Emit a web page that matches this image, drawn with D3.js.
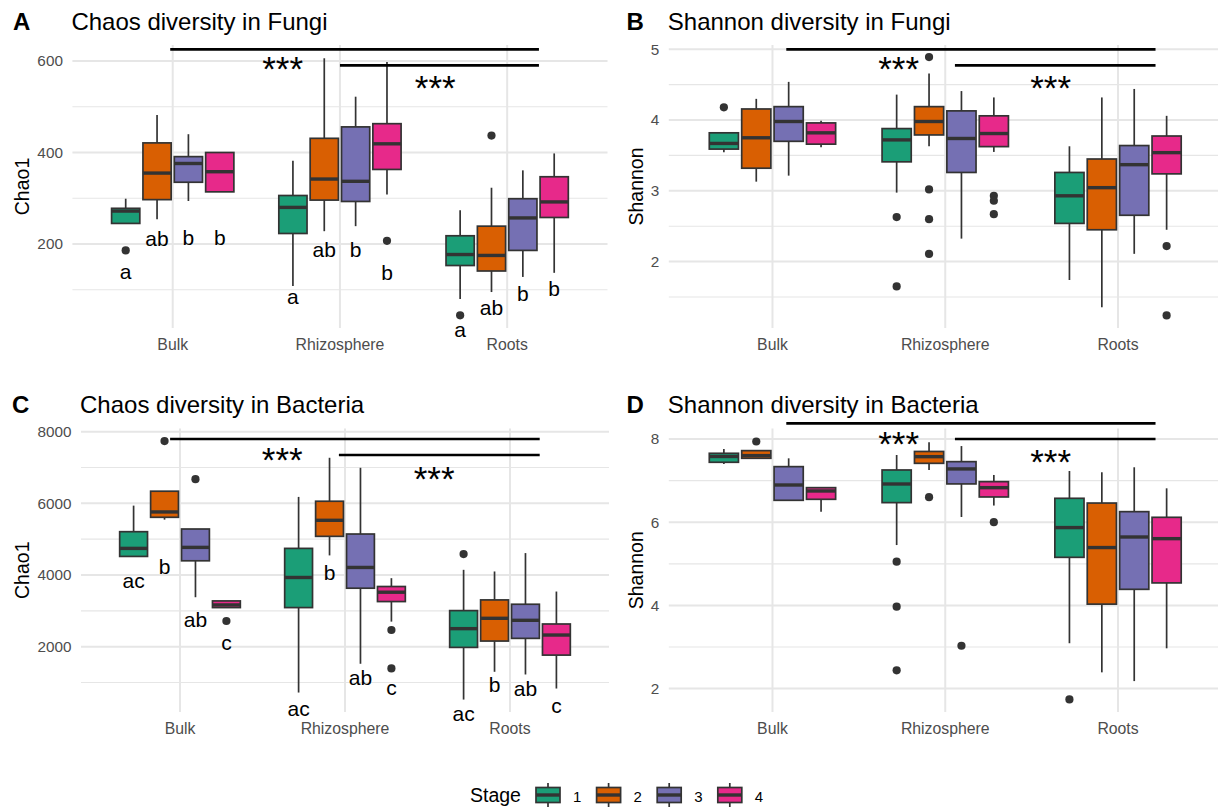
<!DOCTYPE html>
<html>
<head>
<meta charset="utf-8">
<script src="https://cdn.jsdelivr.net/npm/d3@7"></script>
<style>
  body { margin: 0; background: #fff; }
  svg { display: block; font-family: "Liberation Sans", Arial, Helvetica, sans-serif; }
</style>
</head>
<body>
<div class="canvas"></div>
<script>
const sites = ["Bulk", "Rhizosphere", "Roots"];
const stages = ["1", "2", "3", "4"];

// box stats: site, stage, lower whisker, q1, median, q3, upper whisker
const fungiChaoBoxes = [
  ["Bulk", "1", 245, 245, 272, 278, 299],
  ["Bulk", "2", 254, 297, 355, 421, 482],
  ["Bulk", "3", 294, 335, 376, 391, 440],
  ["Bulk", "4", 314, 314, 358, 400, 400],
  ["Rhizosphere", "1", 108, 223, 280, 306, 382],
  ["Rhizosphere", "2", 228, 296, 342, 431, 606],
  ["Rhizosphere", "3", 239, 293, 337, 456, 522],
  ["Rhizosphere", "4", 308, 363, 419, 463, 598],
  ["Roots", "1", 80, 153, 177, 218, 274],
  ["Roots", "2", 95, 141, 175, 239, 323],
  ["Roots", "3", 128, 186, 257, 299, 361],
  ["Roots", "4", 137, 258, 292, 347, 398]
];
const fungiChaoOutliers = [
  ["Bulk", "1", 186], ["Rhizosphere", "4", 207], ["Roots", "1", 44], ["Roots", "2", 437]
];
const fungiChaoLetters = [
  ["Bulk", "1", "a", 139], ["Bulk", "2", "ab", 210], ["Bulk", "3", "b", 212], ["Bulk", "4", "b", 212],
  ["Rhizosphere", "1", "a", 85], ["Rhizosphere", "2", "ab", 187], ["Rhizosphere", "3", "b", 187], ["Rhizosphere", "4", "b", 136],
  ["Roots", "1", "a", 12], ["Roots", "2", "ab", 59], ["Roots", "3", "b", 91], ["Roots", "4", "b", 101]
];
const fungiChaoSig = [[0.985, 3.19, 625.6], [2.0, 3.19, 590.6]];
const fungiChaoStars = [[1.657, 600], [2.57, 558]];

const fungiShannonBoxes = [
  ["Bulk", "1", 3.545, 3.59, 3.67, 3.82, 3.83],
  ["Bulk", "2", 3.13, 3.32, 3.75, 4.157, 4.3],
  ["Bulk", "3", 3.215, 3.7, 3.98, 4.19, 4.54],
  ["Bulk", "4", 3.615, 3.66, 3.82, 3.96, 3.99],
  ["Rhizosphere", "1", 2.975, 3.41, 3.72, 3.88, 4.36],
  ["Rhizosphere", "2", 3.63, 3.79, 3.98, 4.19, 4.66],
  ["Rhizosphere", "3", 2.325, 3.26, 3.74, 4.13, 4.41],
  ["Rhizosphere", "4", 3.55, 3.625, 3.81, 4.06, 4.32],
  ["Roots", "1", 1.74, 2.54, 2.93, 3.26, 3.63],
  ["Roots", "2", 1.355, 2.45, 3.045, 3.45, 4.32],
  ["Roots", "3", 2.11, 2.655, 3.37, 3.64, 4.44],
  ["Roots", "4", 2.45, 3.24, 3.54, 3.775, 4.06]
];
const fungiShannonOutliers = [
  ["Bulk", "1", 4.18],
  ["Rhizosphere", "1", 2.63], ["Rhizosphere", "1", 1.65],
  ["Rhizosphere", "2", 4.89], ["Rhizosphere", "2", 3.02], ["Rhizosphere", "2", 2.6], ["Rhizosphere", "2", 2.11],
  ["Rhizosphere", "4", 2.93], ["Rhizosphere", "4", 2.86], ["Rhizosphere", "4", 2.67],
  ["Roots", "4", 2.22], ["Roots", "4", 1.24]
];
const fungiShannonSig = [[1.08, 3.217, 5.0], [2.056, 3.217, 4.774]];
const fungiShannonStars = [[1.73, 4.835], [2.61, 4.566]];

const bacteriaChaoBoxes = [
  ["Bulk", "1", 4519, 4519, 4743, 5209, 5937],
  ["Bulk", "2", 5545, 5611, 5760, 6339, 6339],
  ["Bulk", "3", 3380, 4397, 4771, 5284, 5284],
  ["Bulk", "4", 3091, 3091, 3165, 3277, 3277],
  ["Rhizosphere", "1", 720, 3091, 3931, 4743, 6180],
  ["Rhizosphere", "2", 4547, 5079, 5527, 6059, 7272],
  ["Rhizosphere", "3", 1523, 3632, 4211, 5144, 6992],
  ["Rhizosphere", "4", 2699, 3259, 3520, 3679, 3912],
  ["Roots", "1", 524, 1980, 2503, 3007, 4145],
  ["Roots", "2", 1299, 2157, 2792, 3305, 4099],
  ["Roots", "3", 1224, 2232, 2736, 3184, 4612],
  ["Roots", "4", 832, 1765, 2325, 2633, 3539]
];
const bacteriaChaoOutliers = [
  ["Bulk", "2", 7739], ["Bulk", "3", 6675], ["Bulk", "4", 2717],
  ["Rhizosphere", "4", 2465], ["Rhizosphere", "4", 1392],
  ["Roots", "1", 4584]
];
const bacteriaChaoLetters = [
  ["Bulk", "1", "ac", 3837], ["Bulk", "2", "b", 4211], ["Bulk", "3", "ab", 2745], ["Bulk", "4", "c", 2092],
  ["Rhizosphere", "1", "ac", 272], ["Rhizosphere", "2", "b", 4052], ["Rhizosphere", "3", "ab", 1131], ["Rhizosphere", "4", "c", 832],
  ["Roots", "1", "ac", 132], ["Roots", "2", "b", 925], ["Roots", "3", "ab", 813], ["Roots", "4", "c", 347]
];
const bacteriaChaoSig = [[0.94, 3.18, 7796], [1.963, 3.18, 7350]];
const bacteriaChaoStars = [[1.62, 7442], [2.54, 6912]];

const bacteriaShannonBoxes = [
  ["Bulk", "1", 7.4, 7.44, 7.58, 7.656, 7.76],
  ["Bulk", "2", 7.536, 7.536, 7.6, 7.72, 7.72],
  ["Bulk", "3", 6.526, 6.526, 6.894, 7.335, 7.535],
  ["Bulk", "4", 6.25, 6.55, 6.75, 6.83, 6.83],
  ["Rhizosphere", "1", 5.45, 6.47, 6.918, 7.255, 7.615],
  ["Rhizosphere", "2", 7.255, 7.415, 7.575, 7.7, 7.92],
  ["Rhizosphere", "3", 6.125, 6.92, 7.28, 7.455, 7.83],
  ["Rhizosphere", "4", 6.4, 6.606, 6.83, 6.974, 7.135],
  ["Roots", "1", 3.09, 5.155, 5.87, 6.574, 7.23],
  ["Roots", "2", 2.39, 4.03, 5.39, 6.46, 7.2],
  ["Roots", "3", 2.18, 4.386, 5.644, 6.253, 7.32],
  ["Roots", "4", 2.968, 4.54, 5.604, 6.117, 6.814]
];
const bacteriaShannonOutliers = [
  ["Bulk", "2", 7.94],
  ["Rhizosphere", "1", 5.05], ["Rhizosphere", "1", 3.97], ["Rhizosphere", "1", 2.44],
  ["Rhizosphere", "2", 6.6], ["Rhizosphere", "3", 3.03], ["Rhizosphere", "4", 6.0],
  ["Roots", "1", 1.74]
];
const bacteriaShannonSig = [[1.08, 3.217, 8.377], [2.056, 3.217, 8.0]];
const bacteriaShannonStars = [[1.73, 8.08], [2.61, 7.64]];

const colour = d3.scaleOrdinal().domain(stages).range(d3.schemeDark2);

const panels = [
  {
    tag: "A", title: "Chaos diversity in Fungi", yLabel: "Chao1",
    boxes: fungiChaoBoxes, outliers: fungiChaoOutliers, letters: fungiChaoLetters,
    sig: fungiChaoSig, stars: fungiChaoStars,
    yDomain: [16.4, 635], yTicks: [200, 400, 600], yMinor: [100, 300, 500],
    left: 72.4, right: 607.5, top: 45, bottom: 328, tagX: 13, yTitleX: 29, titleY: 29.5
  },
  {
    tag: "B", title: "Shannon diversity in Fungi", yLabel: "Shannon",
    boxes: fungiShannonBoxes, outliers: fungiShannonOutliers, letters: [],
    sig: fungiShannonSig, stars: fungiShannonStars,
    yDomain: [1.062, 5.061], yTicks: [2, 3, 4, 5], yMinor: [1.5, 2.5, 3.5, 4.5],
    left: 668.8, right: 1221.7, top: 45, bottom: 328, tagX: 626.5, yTitleX: 643, titleY: 29.5
  },
  {
    tag: "C", title: "Chaos diversity in Bacteria", yLabel: "Chao1",
    boxes: bacteriaChaoBoxes, outliers: bacteriaChaoOutliers, letters: bacteriaChaoLetters,
    sig: bacteriaChaoSig, stars: bacteriaChaoStars,
    yDomain: [177, 8089], yTicks: [2000, 4000, 6000, 8000], yMinor: [1000, 3000, 5000, 7000],
    left: 81, right: 609, top: 428.5, bottom: 712, tagX: 12, yTitleX: 29, titleY: 413
  },
  {
    tag: "D", title: "Shannon diversity in Bacteria", yLabel: "Shannon",
    boxes: bacteriaShannonBoxes, outliers: bacteriaShannonOutliers, letters: [],
    sig: bacteriaShannonSig, stars: bacteriaShannonStars,
    yDomain: [1.437, 8.252], yTicks: [2, 4, 6, 8], yMinor: [3, 5, 7],
    left: 668.8, right: 1221.7, top: 428.5, bottom: 712, tagX: 626.5, yTitleX: 643, titleY: 413
  }
];

const svg = d3
  .select(".canvas")
  .append("svg")
  .attr("width", 1218)
  .attr("height", 808);

const gridCol = "#e6e6e6";
const boxLine = "#333333";

const drawPanel = p => {
  const g = svg.append("g");

  const x = d3
    .scaleBand()
    .domain(sites)
    .range([p.left, p.right])
    .paddingInner(0)
    .paddingOuter(0.1);
  // continuous x for annotations (ggplot discrete units 1..3)
  const xPos = d3.scaleLinear().domain([0.4, 3.6]).range([p.left, p.right]);
  const dodge = d3
    .scaleBand()
    .domain(stages)
    .range([-0.375 * x.bandwidth(), 0.375 * x.bandwidth()])
    .paddingInner(0.1)
    .paddingOuter(0.05);
  const y = d3.scaleLinear().domain(p.yDomain).range([p.bottom, p.top]);

  const cx = (site, stage) =>
    x(site) + x.bandwidth() / 2 + dodge(stage) + dodge.bandwidth() / 2;

  // grid
  g.selectAll(".minor")
    .data(p.yMinor)
    .enter()
    .append("line")
    .attr("x1", p.left)
    .attr("x2", p.right)
    .attr("y1", d => y(d))
    .attr("y2", d => y(d))
    .attr("stroke", gridCol)
    .attr("stroke-width", 1.2);
  g.selectAll(".major")
    .data(p.yTicks)
    .enter()
    .append("line")
    .attr("x1", p.left)
    .attr("x2", p.right)
    .attr("y1", d => y(d))
    .attr("y2", d => y(d))
    .attr("stroke", gridCol)
    .attr("stroke-width", 2);
  g.selectAll(".vgrid")
    .data(sites)
    .enter()
    .append("line")
    .attr("x1", d => x(d) + x.bandwidth() / 2)
    .attr("x2", d => x(d) + x.bandwidth() / 2)
    .attr("y1", p.top)
    .attr("y2", p.bottom)
    .attr("stroke", gridCol)
    .attr("stroke-width", 2);

  // axes
  const yAxis = g
    .append("g")
    .attr("transform", `translate(${p.left},0)`)
    .call(
      d3
        .axisLeft(y)
        .tickValues(p.yTicks)
        .tickFormat(d => String(d))
        .tickSize(0)
        .tickPadding(9.5)
    );
  yAxis.select(".domain").remove();
  yAxis
    .attr("font-family", null)
    .attr("font-size", 15.3)
    .selectAll("text")
    .attr("fill", "#4d4d4d");

  const xAxis = g
    .append("g")
    .attr("transform", `translate(0,${p.bottom})`)
    .call(d3.axisBottom(x).tickSize(0).tickPadding(10.5));
  xAxis.select(".domain").remove();
  xAxis
    .attr("font-family", null)
    .attr("font-size", 15.8)
    .selectAll("text")
    .attr("fill", "#4d4d4d");

  // titles
  g.append("text")
    .attr("x", p.tagX)
    .attr("y", p.titleY)
    .attr("font-size", 24)
    .attr("font-weight", "bold")
    .text(p.tag);
  g.append("text")
    .attr("x", p.left - 1)
    .attr("y", p.titleY)
    .attr("font-size", 24)
    .text(p.title);
  g.append("text")
    .attr("transform", `translate(${p.yTitleX},${(p.top + p.bottom) / 2}) rotate(-90)`)
    .attr("text-anchor", "middle")
    .attr("font-size", 19.5)
    .text(p.yLabel);

  // boxes
  const w = dodge.bandwidth();
  const boxes = g
    .selectAll(".box")
    .data(p.boxes)
    .enter()
    .append("g")
    .attr("class", "box");

  boxes
    .append("line")
    .attr("x1", d => cx(d[0], d[1]))
    .attr("x2", d => cx(d[0], d[1]))
    .attr("y1", d => y(d[6]))
    .attr("y2", d => y(d[5]))
    .attr("stroke", boxLine)
    .attr("stroke-width", 1.7);
  boxes
    .append("line")
    .attr("x1", d => cx(d[0], d[1]))
    .attr("x2", d => cx(d[0], d[1]))
    .attr("y1", d => y(d[3]))
    .attr("y2", d => y(d[2]))
    .attr("stroke", boxLine)
    .attr("stroke-width", 1.7);
  boxes
    .append("rect")
    .attr("x", d => cx(d[0], d[1]) - w / 2)
    .attr("y", d => y(d[5]))
    .attr("width", w)
    .attr("height", d => y(d[3]) - y(d[5]))
    .attr("fill", d => colour(d[1]))
    .attr("stroke", boxLine)
    .attr("stroke-width", 1.7);
  boxes
    .append("line")
    .attr("x1", d => cx(d[0], d[1]) - w / 2)
    .attr("x2", d => cx(d[0], d[1]) + w / 2)
    .attr("y1", d => y(d[4]))
    .attr("y2", d => y(d[4]))
    .attr("stroke", boxLine)
    .attr("stroke-width", 3.4);

  g.selectAll(".outlier")
    .data(p.outliers)
    .enter()
    .append("circle")
    .attr("cx", d => cx(d[0], d[1]))
    .attr("cy", d => y(d[2]))
    .attr("r", 4.1)
    .attr("fill", boxLine);

  // compact letter display
  g.selectAll(".letter")
    .data(p.letters)
    .enter()
    .append("text")
    .attr("x", d => cx(d[0], d[1]))
    .attr("y", d => y(d[3]))
    .attr("dy", "0.33em")
    .attr("text-anchor", "middle")
    .attr("font-size", 21)
    .text(d => d[2]);

  // significance bars
  g.selectAll(".sig")
    .data(p.sig)
    .enter()
    .append("line")
    .attr("x1", d => xPos(d[0]))
    .attr("x2", d => xPos(d[1]))
    .attr("y1", d => y(d[2]))
    .attr("y2", d => y(d[2]))
    .attr("stroke", "#000")
    .attr("stroke-width", 2.7);
  g.selectAll(".stars")
    .data(p.stars)
    .enter()
    .append("text")
    .attr("x", d => xPos(d[0]))
    .attr("y", d => y(d[1]))
    .attr("dy", "0.57em")
    .attr("text-anchor", "middle")
    .attr("font-size", 35)
    .text("***");
};

panels.forEach(drawPanel);

// legend
const legend = svg.append("g").attr("transform", "translate(0,795)");
legend
  .append("text")
  .attr("x", 470)
  .attr("y", 6.5)
  .attr("font-size", 19.5)
  .text("Stage");

const keyX = d3.scalePoint().domain(stages).range([548, 729.8]);
const keys = legend
  .selectAll(".key")
  .data(stages)
  .enter()
  .append("g")
  .attr("transform", d => `translate(${keyX(d)},0)`);

keys
  .append("line")
  .attr("y1", -12)
  .attr("y2", 12)
  .attr("stroke", boxLine)
  .attr("stroke-width", 1.7);
keys
  .append("rect")
  .attr("x", -12)
  .attr("y", -7.5)
  .attr("width", 24)
  .attr("height", 15)
  .attr("fill", d => colour(d))
  .attr("stroke", boxLine)
  .attr("stroke-width", 1.7);
keys
  .append("line")
  .attr("x1", -12)
  .attr("x2", 12)
  .attr("stroke", boxLine)
  .attr("stroke-width", 3.4);
keys
  .append("text")
  .attr("x", 25)
  .attr("y", 6.5)
  .attr("font-size", 15)
  .text(d => d);
</script>
</body>
</html>
